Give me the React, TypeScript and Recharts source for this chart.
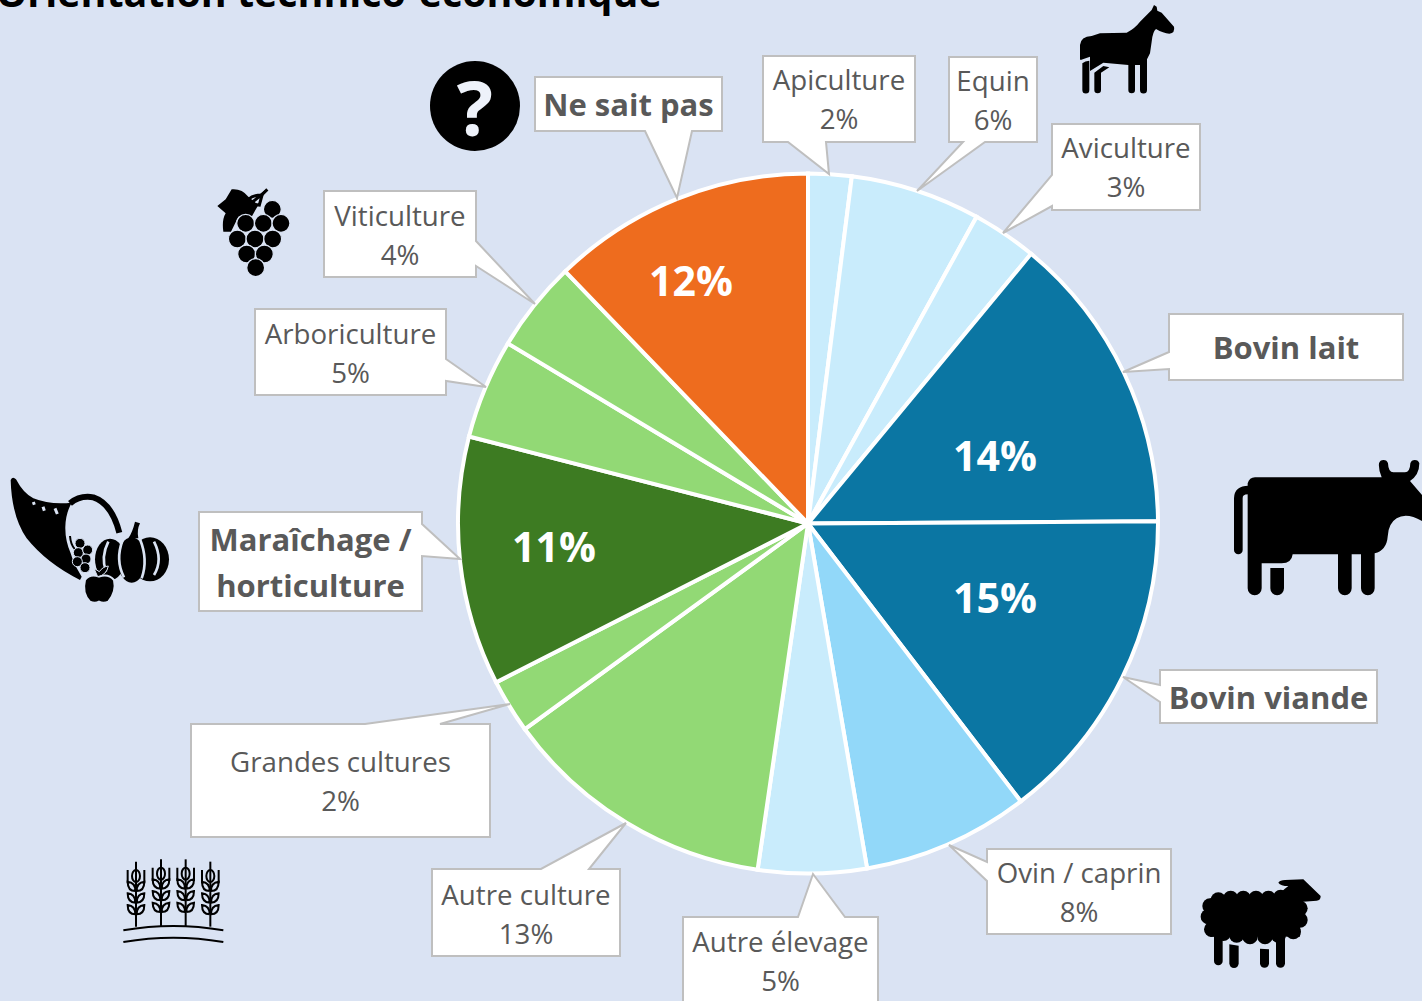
import { PieChart, Pie, Cell } from "recharts"

const categories = [
  "Apiculture",
  "Equin",
  "Aviculture",
  "Bovin lait",
  "Bovin viande",
  "Ovin / caprin",
  "Autre élevage",
  "Autre culture",
  "Grandes cultures",
  "Maraîchage / horticulture",
  "Arboriculture",
  "Viticulture",
  "Ne sait pas",
]
const values = [2, 6, 3, 13.9, 14.7, 7.7, 5, 12.7, 2.5, 11.5, 4.6, 4.2, 12.2]
const percentLabels = ["2%", "6%", "3%", "14%", "15%", "8%", "5%", "13%", "2%", "11%", "5%", "4%", "12%"]
const sliceColors = [
  "#c9ecfc", "#c9ecfc", "#c9ecfc", "#0b76a3", "#0b76a3", "#92d8f9", "#c9ecfc",
  "#92d975", "#92d975", "#3d7b22", "#92d975", "#92d975", "#ee6c1e",
]

const BG = "#dae3f3"
const WIDTH = 1422
const HEIGHT = 1001

const data = categories.map((name, i) => ({ name, value: values[i] }))

// percent printed inside the slice, hand placed like in the original slide
const insideLabels: Record<number, [number, number]> = {
  3: [995, 455],
  4: [995, 597],
  9: [554, 546],
  12: [691, 280],
}

// callout boxes, same order as categories: box x, y, w, h, tail points
const callouts: { box: number[]; tail: number[]; side: "t" | "b" | "l" | "r"; bold?: boolean; cy?: number }[] = [
  { box: [763, 56, 152, 86], tail: [788, 826, 829, 174], side: "b", cy: 98 },
  { box: [949, 57, 88, 85], tail: [963, 985, 917, 191], side: "b" },
  { box: [1052, 124, 148, 86], tail: [175, 206, 1003, 233], side: "l", cy: 166 },
  { box: [1169, 314, 234, 66], tail: [352, 369, 1123, 372], side: "l", bold: true },
  { box: [1160, 670, 217, 53], tail: [685, 702, 1123, 677], side: "l", bold: true },
  { box: [987, 849, 184, 85], tail: [862, 881, 949, 845], side: "l" },
  { box: [683, 917, 195, 100], tail: [798, 845, 813, 874], side: "t", cy: 960 },
  { box: [432, 869, 188, 87], tail: [541, 589, 626, 823], side: "t", cy: 913.5 },
  { box: [191, 724, 299, 113], tail: [365, 440, 510, 704], side: "t" },
  { box: [199, 512, 223, 99], tail: [524, 556, 460, 559], side: "r", bold: true },
  { box: [255, 309, 191, 86], tail: [359, 381, 486, 387], side: "r" },
  { box: [324, 191, 152, 86], tail: [241, 266, 535, 304], side: "r" },
  { box: [535, 77, 187, 54], tail: [645, 692, 677, 198], side: "b", bold: true },
]

function calloutPoints(box: number[], tail: number[], side: string) {
  const [x, y, w, h] = box
  const [a, b, tx, ty] = tail
  const r = x + w
  const d = y + h
  if (side === "t") return `${x},${y} ${a},${y} ${tx},${ty} ${b},${y} ${r},${y} ${r},${d} ${x},${d}`
  if (side === "b") return `${x},${y} ${r},${y} ${r},${d} ${b},${d} ${tx},${ty} ${a},${d} ${x},${d}`
  if (side === "l") return `${x},${y} ${r},${y} ${r},${d} ${x},${d} ${x},${b} ${tx},${ty} ${x},${a}`
  return `${x},${y} ${r},${y} ${r},${a} ${tx},${ty} ${r},${b} ${r},${d} ${x},${d}`
}

function Callout({ index }: { index: number }) {
  const c = callouts[index]
  const name = categories[index]
  const isWrapped = name.startsWith("Maraîchage")
  const lines = isWrapped
    ? [name.split(" / ")[0] + " /", name.split(" / ")[1]]
    : c.bold
      ? [name]
      : [name, percentLabels[index]]
  const step = c.bold ? 46 : 39
  const midY = c.cy ?? c.box[1] + c.box[3] / 2
  return (
    <g>
      <polygon points={calloutPoints(c.box, c.tail, c.side)} fill="#fff" stroke="#bfbfbf" strokeWidth={2} />
      {lines.map((t, i) => (
        <text
          key={t}
          x={c.box[0] + c.box[2] / 2}
          y={midY + (i - (lines.length - 1) / 2) * step}
          textAnchor="middle"
          dominantBaseline="central"
          fontFamily="'Open Sans', sans-serif"
          fontSize={c.bold ? 31 : 27.7}
          fontWeight={c.bold ? 700 : 400}
          fill="#595959"
        >
          {t}
        </text>
      ))}
    </g>
  )
}

// icons are traced in the 3x zoom coordinates, hence scale(1/3)
const third = 1 / 3

function Horse() {
  return (
    <g transform={`translate(1050,0) scale(${third})`}>
      <path d="M90,178 L90,135 Q92,110 125,108 L150,100 L230,98 Q255,85 270,65 L305,30 L312,15 L320,20 L322,32 L335,38 L372,80 Q376,98 358,101 Q340,100 318,87 Q308,95 305,125 L300,160 L291,178 L291,270 a10.5,10.5 0 0 1 -21,0 L270,195 L255,195 L255,270 a10,10 0 0 1 -20,0 L235,195 L160,188 L120,213 L120,170 L92,180 Z" />
      <path d="M97,190 Q105,182 118,182 L118,270 a10.5,10.5 0 0 1 -21,0 Z" />
      <path d="M133,218 L160,198 L178,202 L153,218 L153,270 a10,10 0 0 1 -20,0 Z" />
    </g>
  )
}

function Cow() {
  return (
    <g transform={`translate(1210,440) scale(${third})`}>
      <path d="M85,330 L85,175 Q85,150 115,150" fill="none" stroke="#000" strokeWidth={26} strokeLinecap="round" />
      <path d="M113,130 Q118,112 135,112 L515,112 Q505,90 507,70 a14,14 0 0 1 27,0 Q535,97 550,97 L585,97 Q600,97 601,70 a14,14 0 0 1 27,0 Q628,105 600,123 L640,170 L640,245 Q590,215 560,235 Q535,250 533,290 Q530,330 494,340 L494,445 a20.5,20.5 0 0 1 -41,0 L453,343 L425,343 L425,445 a20.5,20.5 0 0 1 -41,0 L384,343 L248,343 Q245,370 215,370 L155,370 L155,445 a21,21 0 0 1 -42,0 Z" />
      <path d="M181,384 L222,384 L222,445 a20.5,20.5 0 0 1 -41,0 Z" />
    </g>
  )
}

const woolBumps = [
  [85, 90], [122, 85], [160, 85], [198, 85], [235, 85], [272, 82], [60, 108], [55, 140], [65, 178],
  [100, 190], [140, 195], [180, 200], [225, 200], [265, 195], [310, 185], [330, 150], [330, 115], [310, 90],
]

function Sheep() {
  return (
    <g transform={`translate(1190,870) scale(${third})`}>
      {woolBumps.map(([x, y]) => (
        <circle key={`${x}-${y}`} cx={x} cy={y} r={23} />
      ))}
      <rect x={60} y={85} width={270} height={115} />
      <path d="M265,38 Q270,30 285,30 L340,28 L392,78 Q392,92 380,92 L340,95 L300,110 L270,70 Q285,55 295,48 Q272,48 265,38 Z" />
      <path d="M72,190 L98,190 L98,273 a13,13 0 0 1 -26,0 Z" />
      <path d="M118,223 L146,227 L146,280 a14,14 0 0 1 -28,0 Z" />
      <path d="M210,236 L237,238 L237,280 a13.5,13.5 0 0 1 -27,0 Z" />
      <path d="M258,200 L285,200 L285,280 a13.5,13.5 0 0 1 -27,0 Z" />
    </g>
  )
}

const wheatStalks = [78, 153, 227, 301]

function Wheat() {
  return (
    <g transform={`translate(110,850) scale(${third})`} fill="none" stroke="#000" strokeWidth={6}>
      {wheatStalks.map((x, i) => {
        const up = i === 1 || i === 2 ? -7 : 0
        return (
          <g key={x} transform={`translate(${x},${up})`}>
            <path d={`M0,35 L0,${230 - up}`} />
            <ellipse cx={0} cy={78} rx={12} ry={18} />
            <path d="M-25,60 L-25,100 M25,60 L25,100" />
            {[95, 130, 165].map((y) => (
              <path
                key={y}
                d={`M-2,${y + 28} Q-25,${y + 28} -25,${y} Q-2,${y + 2} -2,${y + 28} M2,${y + 28} Q25,${y + 28} 25,${y} Q2,${y + 2} 2,${y + 28}`}
              />
            ))}
          </g>
        )
      })}
      <path d="M40,241 Q190,215 340,241" />
      <path d="M40,276 Q190,250 340,276" />
    </g>
  )
}

const grapes = [
  [202, 88], [122, 130], [175, 130], [228, 130], [97, 177], [150, 177], [203, 177], [125, 222], [178, 222], [152, 263],
]

function Grapes() {
  return (
    <g transform={`translate(205,180) scale(${third})`}>
      <path d="M37,78 L62,58 L80,28 Q110,25 130,50 L160,75 L140,110 L100,110 L78,155 L55,155 Q50,120 62,100 Z" />
      <path d="M187,28 L170,45 Q145,45 130,58" fill="none" stroke="#000" strokeWidth={9} />
      <path d="M172,42 L163,75 L135,72 Z" fill="none" stroke="#000" strokeWidth={9} />
      {grapes.map(([x, y]) => (
        <circle key={`${x}-${y}`} cx={x} cy={y} r={27} stroke={BG} strokeWidth={4} />
      ))}
    </g>
  )
}

const cornGrapes = [
  [240, 250], [235, 278], [263, 270], [258, 297], [232, 305], [255, 323],
]

function Cornucopia() {
  return (
    <g transform={`translate(0,460) scale(${third})`}>
      <path d="M32,60 Q38,48 48,58 Q70,100 100,115 Q150,135 215,128 Q197,160 196,200 Q195,240 212,280 L222,310 L245,350 L240,360 Q140,310 80,235 Q35,170 32,60 Z" />
      <path d="M210,130 Q240,105 280,112 Q335,130 358,218" fill="none" stroke="#000" strokeWidth={18} />
      <path d="M100,126 L103,134 M129,140 L133,152 M165,145 L172,162" stroke={BG} strokeWidth={9} />
      <path d="M210,228 Q212,255 225,268" fill="none" stroke="#000" strokeWidth={6} />
      {cornGrapes.map(([x, y]) => (
        <circle key={`${x}-${y}`} cx={x} cy={y} r={15} stroke={BG} strokeWidth={3} />
      ))}
      <ellipse cx={330} cy={298} rx={45} ry={62} />
      <ellipse cx={450} cy={298} rx={57} ry={66} />
      <ellipse cx={395} cy={300} rx={42} ry={68} />
      <path d="M385,235 Q398,215 405,185 L420,190 Q410,210 415,235 Z" />
      <path
        d="M368,240 Q345,300 372,352 M420,238 Q445,300 425,355 M325,245 Q302,290 318,335 M462,245 Q490,300 462,345"
        fill="none"
        stroke={BG}
        strokeWidth={8}
      />
      <path
        d="M297,350 Q270,340 255,360 Q245,400 270,425 Q285,432 297,425 Q310,432 325,425 Q350,395 342,360 Q325,340 297,350 Z"
        stroke={BG}
        strokeWidth={6}
      />
      <path d="M293,350 L282,325 L298,335 Q308,320 325,318 Q320,345 293,350 Z" stroke={BG} strokeWidth={3} />
    </g>
  )
}

function renderInsideLabel(props: { index?: number }) {
  const pos = insideLabels[props.index ?? -1]
  if (!pos) return null
  return (
    <text
      x={pos[0]}
      y={pos[1]}
      textAnchor="middle"
      dominantBaseline="central"
      fill="#fff"
      fontFamily="'Open Sans', sans-serif"
      fontWeight={700}
      fontSize={41}
    >
      {percentLabels[props.index as number]}
    </text>
  )
}

export default function App() {
  return (
    <div style={{ position: "absolute", left: 0, top: 0, width: WIDTH, height: HEIGHT, background: BG, overflow: "hidden" }}>
      <svg width={WIDTH} height={HEIGHT} style={{ position: "absolute", left: 0, top: 0 }}>
        <text x={-4} y={7} fontFamily="'Open Sans', sans-serif" fontWeight={700} fontSize={39.4} fill="#000">
          Orientation technico-économique
        </text>
      </svg>
      <div style={{ position: "absolute", left: 0, top: 0 }}>
        <PieChart width={WIDTH} height={HEIGHT} margin={{ top: 0, right: 0, bottom: 0, left: 0 }}>
          <Pie
            data={data}
            dataKey="value"
            nameKey="name"
            cx={808}
            cy={523.5}
            outerRadius={350}
            startAngle={90}
            endAngle={-270}
            stroke="#fff"
            strokeWidth={4}
            label={renderInsideLabel}
            labelLine={false}
            isAnimationActive={false}
          >
            {data.map((d, i) => (
              <Cell key={d.name} fill={sliceColors[i]} />
            ))}
          </Pie>
        </PieChart>
      </div>
      <svg width={WIDTH} height={HEIGHT} style={{ position: "absolute", left: 0, top: 0, pointerEvents: "none" }}>
        {categories.map((name, i) => (
          <Callout key={name} index={i} />
        ))}
        <circle cx={475} cy={106} r={45} fill="#000" />
        <text x={475} y={106} textAnchor="middle" dominantBaseline="central" fontFamily="'Open Sans', sans-serif" fontWeight={700} fontSize={76} fill="#eef2fa">
          ?
        </text>
        <Horse />
        <Cow />
        <Sheep />
        <Wheat />
        <Grapes />
        <Cornucopia />
      </svg>
    </div>
  )
}
